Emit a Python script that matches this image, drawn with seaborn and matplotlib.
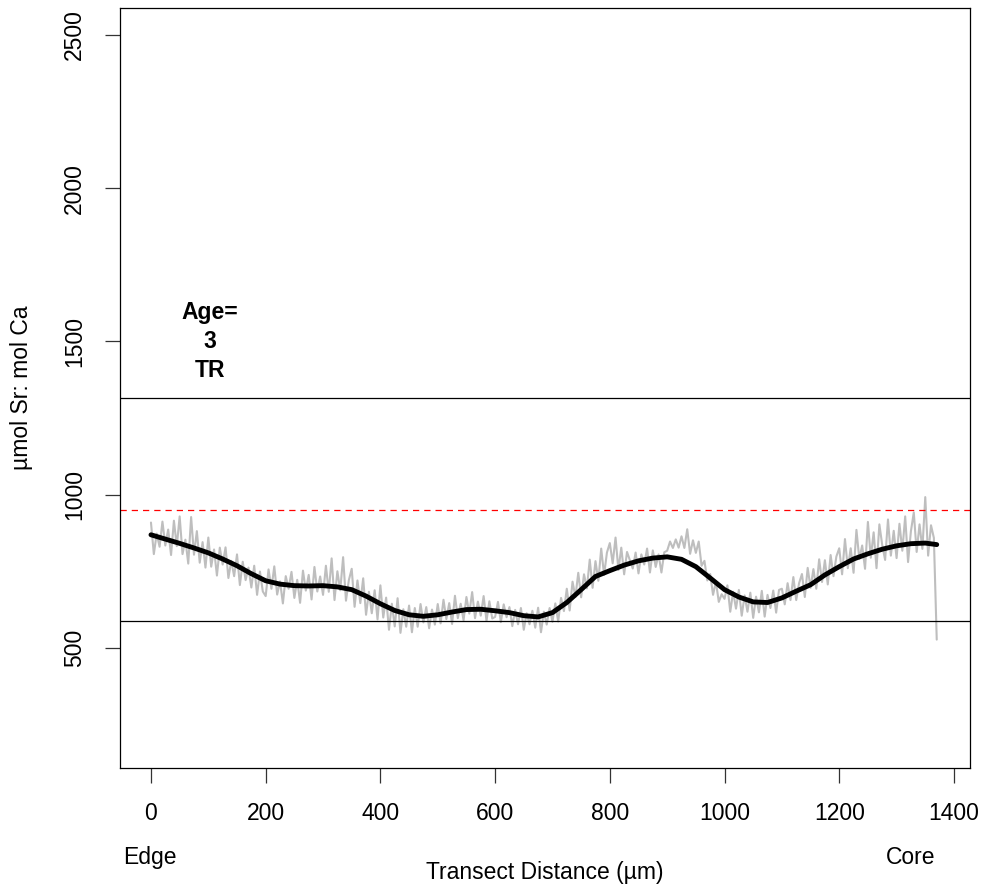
import numpy as np
import pandas as pd
import matplotlib
matplotlib.use("Agg")
import matplotlib.pyplot as plt
import seaborn as sns

# ---- data ----
raw_x = list(range(0, 1371, 5))
raw_sr = [
    909, 806, 873, 830, 912, 834, 886, 803, 915, 832, 929, 806, 853, 775, 927, 804, 881, 778, 845, 762,
    860, 765, 821, 736, 827, 772, 828, 728, 784, 734, 805, 705, 781, 721, 762, 697, 768, 673, 749, 684,
    669, 756, 693, 766, 674, 717, 645, 734, 693, 748, 663, 722, 647, 752, 687, 738, 658, 764, 684, 733,
    673, 768, 683, 792, 656, 750, 688, 796, 654, 721, 758, 634, 720, 646, 727, 608, 683, 613, 688, 593,
    704, 599, 664, 559, 644, 570, 662, 549, 626, 569, 638, 551, 630, 569, 643, 583, 633, 564, 625, 576,
    643, 580, 657, 594, 646, 578, 670, 597, 644, 590, 666, 612, 682, 597, 651, 605, 669, 588, 652, 596,
    601, 650, 584, 642, 600, 633, 571, 624, 577, 630, 559, 613, 577, 621, 566, 631, 551, 618, 576, 630,
    585, 645, 586, 663, 620, 693, 622, 716, 666, 745, 665, 740, 694, 788, 696, 783, 719, 824, 738, 811,
    842, 776, 860, 754, 827, 740, 813, 786, 759, 811, 743, 805, 772, 824, 746, 818, 764, 805, 746, 812,
    817, 847, 826, 854, 827, 864, 826, 887, 807, 851, 810, 847, 768, 784, 720, 741, 673, 716, 650, 675,
    660, 704, 618, 683, 628, 689, 605, 671, 618, 680, 598, 667, 616, 686, 602, 673, 630, 687, 615, 689,
    693, 642, 711, 656, 731, 656, 711, 741, 666, 761, 696, 757, 693, 789, 715, 786, 707, 803, 734, 798,
    825, 740, 855, 760, 825, 745, 885, 790, 834, 758, 911, 794, 877, 760, 903, 835, 787, 919, 801, 882,
    793, 905, 817, 929, 780, 881, 942, 813, 903, 823, 992, 801, 900, 859, 527,
]

smooth_x = [0, 25, 50, 75, 100, 125, 150, 175, 200, 225, 250, 275, 300, 325, 350, 375,
            400, 425, 450, 475, 500, 525, 550, 575, 600, 625, 650, 675, 700, 725, 750,
            775, 800, 825, 850, 875, 900, 925, 950, 975, 1000, 1025, 1050, 1075, 1100,
            1125, 1150, 1175, 1200, 1225, 1250, 1275, 1300, 1325, 1350, 1370]
smooth_sr = [869, 855, 841, 826, 810, 790, 768, 742, 719, 708, 703, 702, 703, 699, 690, 669,
             644, 622, 608, 603, 608, 617, 625, 626, 621, 615, 605, 601, 615, 648, 690,
             733, 752, 770, 784, 793, 797, 789, 765, 728, 690, 666, 650, 648, 663,
             685, 706, 738, 765, 790, 807, 822, 833, 840, 842, 837]

upper_limit = 1314
lower_limit = 588
red_ref = 951

x_ticks = [0, 200, 400, 600, 800, 1000, 1200, 1400]
y_ticks = [500, 1000, 1500, 2000, 2500]
age_label = "Age=\n3\nTR"

raw_df = pd.DataFrame({"x": raw_x, "sr": raw_sr})
smooth_df = pd.DataFrame({"x": smooth_x, "sr": smooth_sr})

# ---- plot ----
sns.set_style("white")
plt.rcParams["font.family"] = ["Liberation Sans", "DejaVu Sans"]
plt.rcParams["text.color"] = "black"
plt.rcParams["axes.labelcolor"] = "black"
plt.rcParams["xtick.color"] = "black"
plt.rcParams["ytick.color"] = "black"

fig = plt.figure(figsize=(9.87, 8.88), dpi=100)
ax = fig.add_axes([120 / 987, 1 - 768 / 888, 850 / 987, 760 / 888])

sns.lineplot(data=raw_df, x="x", y="sr", ax=ax, color="#bebebe", linewidth=1.5,
             estimator=None, sort=False)
sns.lineplot(data=smooth_df, x="x", y="sr", ax=ax, color="black", linewidth=3.5,
             estimator=None, sort=False)

ax.axhline(upper_limit, color="black", linewidth=0.9)
ax.axhline(lower_limit, color="black", linewidth=0.9)
ax.axhline(red_ref, color="red", linewidth=0.9, linestyle=(0, (5, 4)))

ax.set_xlim(-54, 1428)
ax.set_ylim(108, 2588)
ax.set_xticks(x_ticks)
ax.set_xticklabels([str(v) for v in x_ticks])
ax.set_yticks(y_ticks)
ax.set_yticklabels([str(v) for v in y_ticks], rotation=90, va="center")

ax.tick_params(axis="both", direction="out", length=10.5, width=0.9,
               color="#333333", pad=14, labelsize=16.5, labelcolor="black")
ax.tick_params(axis="x", bottom=True)
ax.tick_params(axis="y", left=True)
for s in ax.spines.values():
    s.set_visible(True)
    s.set_color("black")
    s.set_linewidth(0.9)

ax.set_xlabel("")
ax.set_ylabel("")

fig.text(545 / 987, 1 - 872 / 888, "Transect Distance (µm)", ha="center", va="center",
         fontsize=16.5, color="black")
fig.text(22 / 987, 1 - 388 / 888, "µmol Sr: mol Ca", ha="center", va="center",
         rotation=90, fontsize=16.5, color="black")
fig.text(123 / 987, 1 - 857 / 888, "Edge", ha="left", va="center", fontsize=16.5,
         color="black")
fig.text(935 / 987, 1 - 857 / 888, "Core", ha="right", va="center", fontsize=16.5,
         color="black")

ax.text(103, 1500, age_label, ha="center", va="center", fontsize=16.5,
        fontweight="bold", linespacing=1.35, color="black")

fig.savefig("out.png", dpi=100)
